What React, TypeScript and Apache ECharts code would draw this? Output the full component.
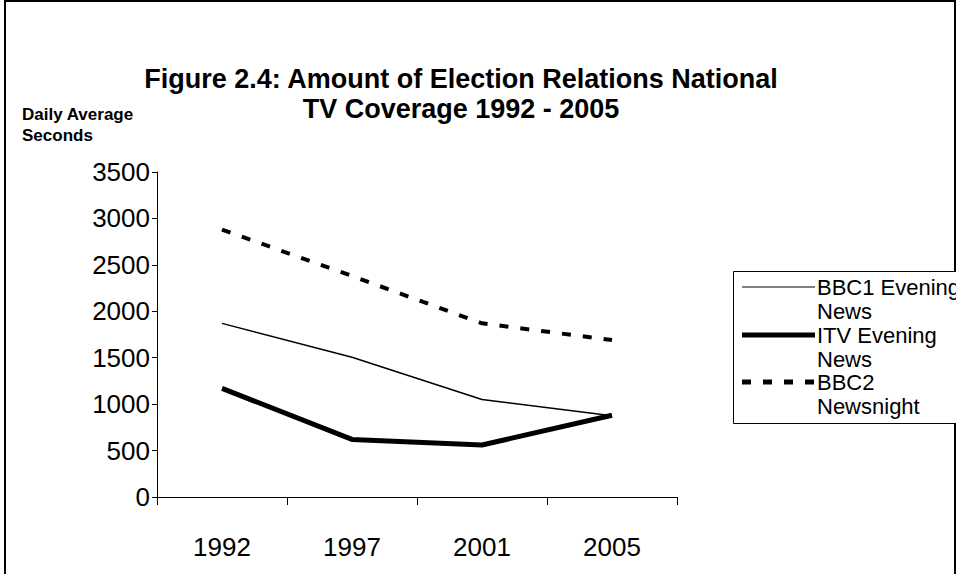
import React, { useEffect, useRef } from "react";
import * as echarts from "echarts";

const years = ["1992", "1997", "2001", "2005"];
const bbc1Evening = [1870, 1505, 1050, 875];
const itvEvening = [1170, 620, 560, 880];
const bbc2Newsnight = [2880, 2380, 1870, 1690];
const seriesNames = ["BBC1 Evening\nNews", "ITV Evening\nNews", "BBC2\nNewsnight"];
const yMin = 0;
const yMax = 3500;
const yStep = 500;

const FONT = "'Liberation Sans', Arial, Helvetica, sans-serif";

export default function App() {
  const ref = useRef<HTMLDivElement>(null);
  useEffect(() => {
    if (!ref.current) return;
    const chart = echarts.init(ref.current, undefined, { renderer: "svg" });
    const legendX = 742;
    const legendLen = 73;
    const legendRows = [287, 335, 382];
    const legendStyles = [
      { lineWidth: 1.2, lineDash: null as any },
      { lineWidth: 5, lineDash: null as any },
      { lineWidth: 5, lineDash: [9, 12] },
    ];
    chart.setOption({
      animation: false,
      backgroundColor: "#ffffff",
      textStyle: { fontFamily: FONT, color: "#000" },
      title: [
        {
          text: "Figure 2.4: Amount of Election Relations National\nTV Coverage 1992 - 2005",
          left: 461,
          top: 64,
          padding: 0,
          textAlign: "center",
          textStyle: { fontFamily: FONT, fontSize: 27, fontWeight: "bold", color: "#000", lineHeight: 30 },
        },
        {
          text: "Daily Average\nSeconds",
          left: 22,
          top: 104,
          padding: 0,
          textStyle: { fontFamily: FONT, fontSize: 17, fontWeight: "bold", color: "#000", lineHeight: 21 },
        },
      ],
      grid: { left: 157, right: 279, top: 172, bottom: 77, containLabel: false },
      xAxis: {
        type: "category",
        data: years,
        boundaryGap: true,
        axisLine: { lineStyle: { color: "#000", width: 1 } },
        axisTick: { show: true, length: 8, lineStyle: { color: "#000" } },
        axisLabel: { color: "#000", fontSize: 26, fontFamily: FONT, margin: 37 },
        splitLine: { show: false },
      },
      yAxis: {
        type: "value",
        min: yMin,
        max: yMax,
        interval: yStep,
        axisLine: { show: true, lineStyle: { color: "#000", width: 1 } },
        axisTick: { show: true, length: 5, lineStyle: { color: "#000" } },
        axisLabel: {
          color: "#000",
          fontSize: 26,
          fontFamily: FONT,
          margin: 7,
          formatter: (v: number) => String(v),
        },
        splitLine: { show: false },
      },
      series: [
        {
          name: seriesNames[0],
          type: "line",
          data: bbc1Evening,
          showSymbol: false,
          symbol: "none",
          lineStyle: { color: "#000", width: 1.5 },
        },
        {
          name: seriesNames[1],
          type: "line",
          data: itvEvening,
          showSymbol: false,
          symbol: "none",
          lineStyle: { color: "#000", width: 5 },
        },
        {
          name: seriesNames[2],
          type: "line",
          data: bbc2Newsnight,
          showSymbol: false,
          symbol: "none",
          lineStyle: { color: "#000", width: 4, type: [9, 12] },
        },
      ],
      graphic: [
        {
          type: "rect",
          shape: { x: 5, y: 1, width: 950, height: 640 },
          style: { fill: "none", stroke: "#000", lineWidth: 2 },
          silent: true,
        },
        {
          type: "rect",
          shape: { x: 733.5, y: 271.5, width: 240, height: 152 },
          style: { fill: "#fff", stroke: "#000", lineWidth: 1 },
          silent: true,
        },
        ...legendRows.map((y, i) => ({
          type: "line",
          shape: { x1: legendX, y1: y, x2: legendX + legendLen, y2: y },
          style: { stroke: "#000", lineWidth: legendStyles[i].lineWidth, lineDash: legendStyles[i].lineDash },
          silent: true,
        })),
        ...legendRows.map((y, i) => ({
          type: "text",
          x: legendX + legendLen + 2,
          y: y - 12,
          style: {
            text: seriesNames[i],
            fontFamily: FONT,
            fontSize: 22,
            lineHeight: 24,
            fill: "#000",
            textVerticalAlign: "top",
          },
          silent: true,
        })),
      ],
    });
    return () => chart.dispose();
  }, []);
  return (
    <div
      ref={ref}
      style={{ position: "fixed", left: 0, top: 0, width: 956, height: 574, background: "#fff" }}
    />
  );
}
